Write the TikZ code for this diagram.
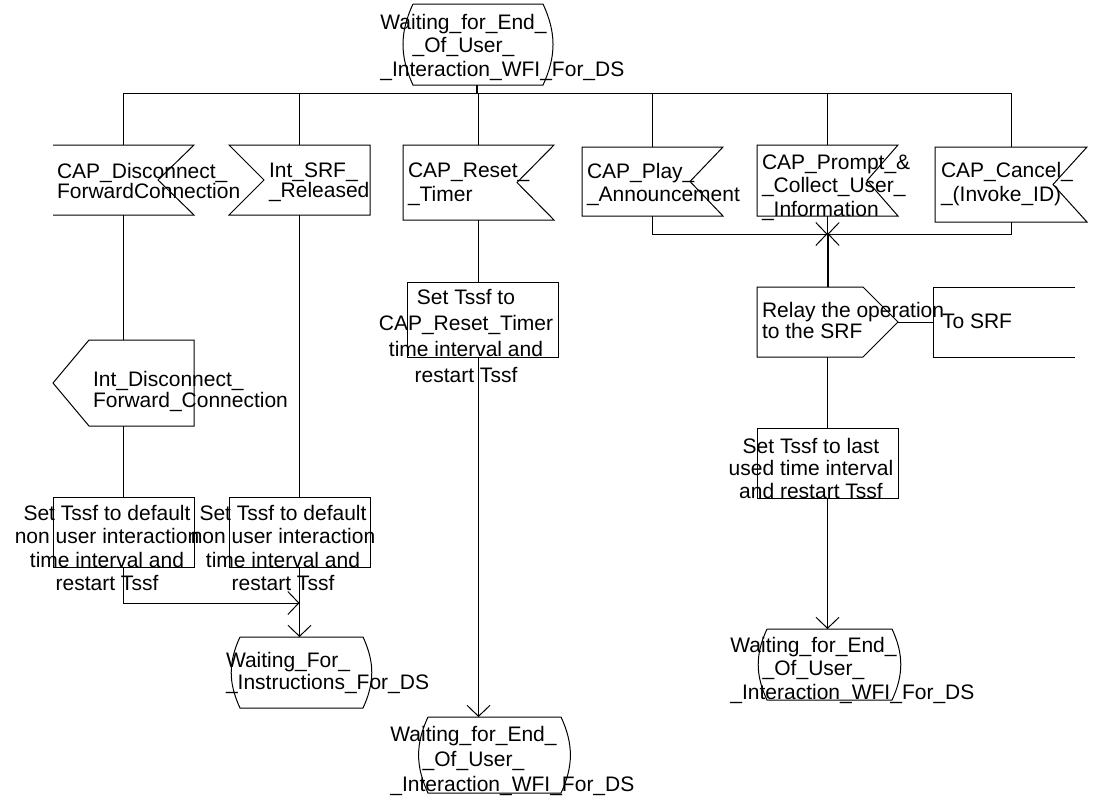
\documentclass[tikz,border=0pt]{standalone}
\usepackage{fontspec}
\setmainfont{Liberation Sans}
\usetikzlibrary{arrows.meta}

% SDL symbol outlines, drawn from the anchors of an empty node
\newcommand\sdlInR[2]{\draw (#1.north west) -- (#1.north east) -- ([xshift=-#2]#1.east) -- (#1.south east) -- (#1.south west) -- cycle;}
\newcommand\sdlInRopen[2]{\draw (#1.north west) -- (#1.north east) -- ([xshift=-#2]#1.east) -- (#1.south east) -- (#1.south west);}
\newcommand\sdlInL[2]{\draw (#1.north west) -- (#1.north east) -- (#1.south east) -- (#1.south west) -- ([xshift=#2]#1.west) -- cycle;}
\newcommand\sdlOutR[2]{\draw (#1.north west) -- ([xshift=-#2]#1.north east) -- (#1.east) -- ([xshift=-#2]#1.south east) -- (#1.south west) -- cycle;}
\newcommand\sdlOutL[2]{\draw (#1.north east) -- ([xshift=#2]#1.north west) -- (#1.west) -- ([xshift=#2]#1.south west) -- (#1.south east) -- cycle;}
\newcommand\sdlState[1]{\draw (#1.north west) -- (#1.north east) to[bend left=25] (#1.south east) -- (#1.south west) to[bend left=25] (#1.north west);}
\newcommand\sdlOpenBox[1]{\draw (#1.north east) -- (#1.north west) -- (#1.south west) -- (#1.south east);}

\begin{document}
\begin{tikzpicture}[x=1pt,y=-1pt,line width=1pt,
  sym/.style={inner sep=0pt,outer sep=0pt},
  box/.style={sym,draw},
  txt/.style={inner sep=0pt,outer sep=0pt,font=\fontsize{21}{24}\selectfont},
  lead/.style={font=\fontsize{21}{#1}\selectfont},
  arr/.style={-{Straight Barb[length=11pt,width=23pt]}},
  heavy/.style={line width=2pt}]
\useasboundingbox (0,0) rectangle (1095,803);

% ---- states ----
\node[sym,minimum width=130pt,minimum height=81pt] (s0) at (478,44.5) {};
\sdlState{s0}
\node[txt,align=center,lead=23.5] (s0t) at (463.5,47.5)
  {Waiting\_for\_End\_\\\_Of\_User\_\\\rlap{\_Interaction\_WFI\_For\_DS}\phantom{Waiting\_for\_End\_}};

\node[sym,minimum width=123pt,minimum height=71pt] (s1) at (301.5,672.5) {};
\sdlState{s1}
\node[txt,align=left,anchor=west,lead=22] (s1t) at (226,673)
  {Waiting\_For\_\\\_Instructions\_For\_DS};

\node[sym,minimum width=133pt,minimum height=76pt] (s2) at (494.5,755) {};
\sdlState{s2}
\node[txt,align=center,lead=25] (s2t) at (473.5,761)
  {Waiting\_for\_End\_\\\_Of\_User\_\\\rlap{\_Interaction\_WFI\_For\_DS}\phantom{Waiting\_for\_End\_}};

\node[sym,minimum width=125pt,minimum height=71pt] (s3) at (829.5,664.5) {};
\sdlState{s3}
\node[txt,align=center,lead=23.5] (s3t) at (813.5,670.5)
  {Waiting\_for\_End\_\\\_Of\_User\_\\\rlap{\_Interaction\_WFI\_For\_DS}\phantom{Waiting\_for\_End\_}};

% ---- input signals ----
\node[sym,minimum width=141pt,minimum height=70pt] (sig1) at (123.5,180) {};
\sdlInRopen{sig1}{36pt}
\node[txt,align=left,anchor=west,lead=20] (sig1t) at (57,180.5) {CAP\_Disconnect\_\\ForwardConnection};

\node[sym,minimum width=141pt,minimum height=70pt] (sig2) at (299.5,180) {};
\sdlInL{sig2}{35pt}
\node[txt,align=left,anchor=west,lead=20] (sig2t) at (269,182) {Int\_SRF\_\\\_Released};

\node[sym,minimum width=151pt,minimum height=75pt] (sig3) at (478.5,182.5) {};
\sdlInR{sig3}{37pt}
\node[txt,align=left,anchor=west] (sig3t) at (408,184) {CAP\_Reset\_\\\_Timer};

\node[sym,minimum width=141pt,minimum height=69pt] (sig4) at (652.5,181.5) {};
\sdlInR{sig4}{33pt}
\node[txt,align=left,anchor=west,lead=23] (sig4t) at (587,184) {CAP\_Play\_\\\_Announcement};

\node[sym,minimum width=141pt,minimum height=71pt] (sig5) at (827.5,180.5) {};
\sdlInR{sig5}{31pt}
\node[txt,align=left,anchor=west,lead=23.5] (sig5t) at (762,187.5) {CAP\_Prompt\_\&\\\_Collect\_User\_\\\_Information};

\node[sym,minimum width=152pt,minimum height=75pt] (sig6) at (1011,184.5) {};
\sdlInR{sig6}{34pt}
\node[txt,align=left,anchor=west] (sig6t) at (941,184.5) {CAP\_Cancel\_\\\_(Invoke\_ID)};

% ---- outputs ----
\node[sym,minimum width=141pt,minimum height=86pt] (disc) at (123.5,383) {};
\sdlOutL{disc}{36pt}
\node[txt,align=left,anchor=west,lead=21] (disct) at (93,391.5) {Int\_Disconnect\_\\Forward\_Connection};

\node[sym,minimum width=141pt,minimum height=70pt] (relay) at (827.5,322) {};
\sdlOutR{relay}{35pt}
\node[txt,align=left,anchor=west,lead=21] (relayt) at (762,320) {Relay the operation\\to the SRF};

\node[sym,minimum width=142pt,minimum height=70pt] (tosrf) at (1004,322) {};
\sdlOpenBox{tosrf}
\node[txt,anchor=west] (tosrft) at (942,321) {To SRF};

% ---- tasks ----
\node[box,minimum width=141pt,minimum height=70pt] (task1) at (123.5,532) {};
\node[txt,align=center,lead=23.3] (task1t) at (107,548) {Set Tssf to default\\non user interaction\\time interval and\\restart Tssf};

\node[box,minimum width=141pt,minimum height=70pt] (task2) at (299.5,532) {};
\node[txt,align=center,lead=23.3] (task2t) at (283,548) {Set Tssf to default\\non user interaction\\time interval and\\restart Tssf};

\node[box,minimum width=151pt,minimum height=75pt] (task3) at (482.5,319.5) {};
\node[txt,align=center,lead=25.7] (task3t) at (466,336) {Set Tssf to\\CAP\_Reset\_Timer\\time interval and\\restart Tssf};

\node[box,minimum width=141pt,minimum height=70pt] (task4) at (827.5,463) {};
\node[txt,align=center,lead=22.5] (task4t) at (811,468) {Set Tssf to last\\used time interval\\and restart Tssf};

% ---- connectors ----
\coordinate (bus) at (477,93);
\coordinate (j1) at (299.5,603);
\coordinate (m) at (827.5,234);

\draw[heavy] (s0.south -| bus) -- (bus);
\foreach \n in {sig1,sig2,sig3,sig4,sig5,sig6}
  \draw (bus) -| (\n.north);

\draw (sig1.south) -- (disc.north);
\draw (disc.south) -- (task1.north);
\draw[arr] (task1.south) |- (j1);
\draw (sig2.south) -- (task2.north);
\draw[arr] (task2.south) -- (task2.south |- s1.north);

\draw (sig3.south) -- (sig3.south |- task3.north);
\draw[arr] (sig3.south |- task3.south) -- (sig3.south |- s2.north);

\draw[arr] (sig4.south) |- (m);
\draw (sig5.south) -- (m);
\draw[arr] (sig6.south) |- (m);
\draw[heavy] (m) -- (relay.north);
\draw (relay.east) -- (tosrf.west);
\draw (relay.south) -- (task4.north);
\draw[arr] (task4.south) -- (task4.south |- s3.north);
\end{tikzpicture}
\end{document}
